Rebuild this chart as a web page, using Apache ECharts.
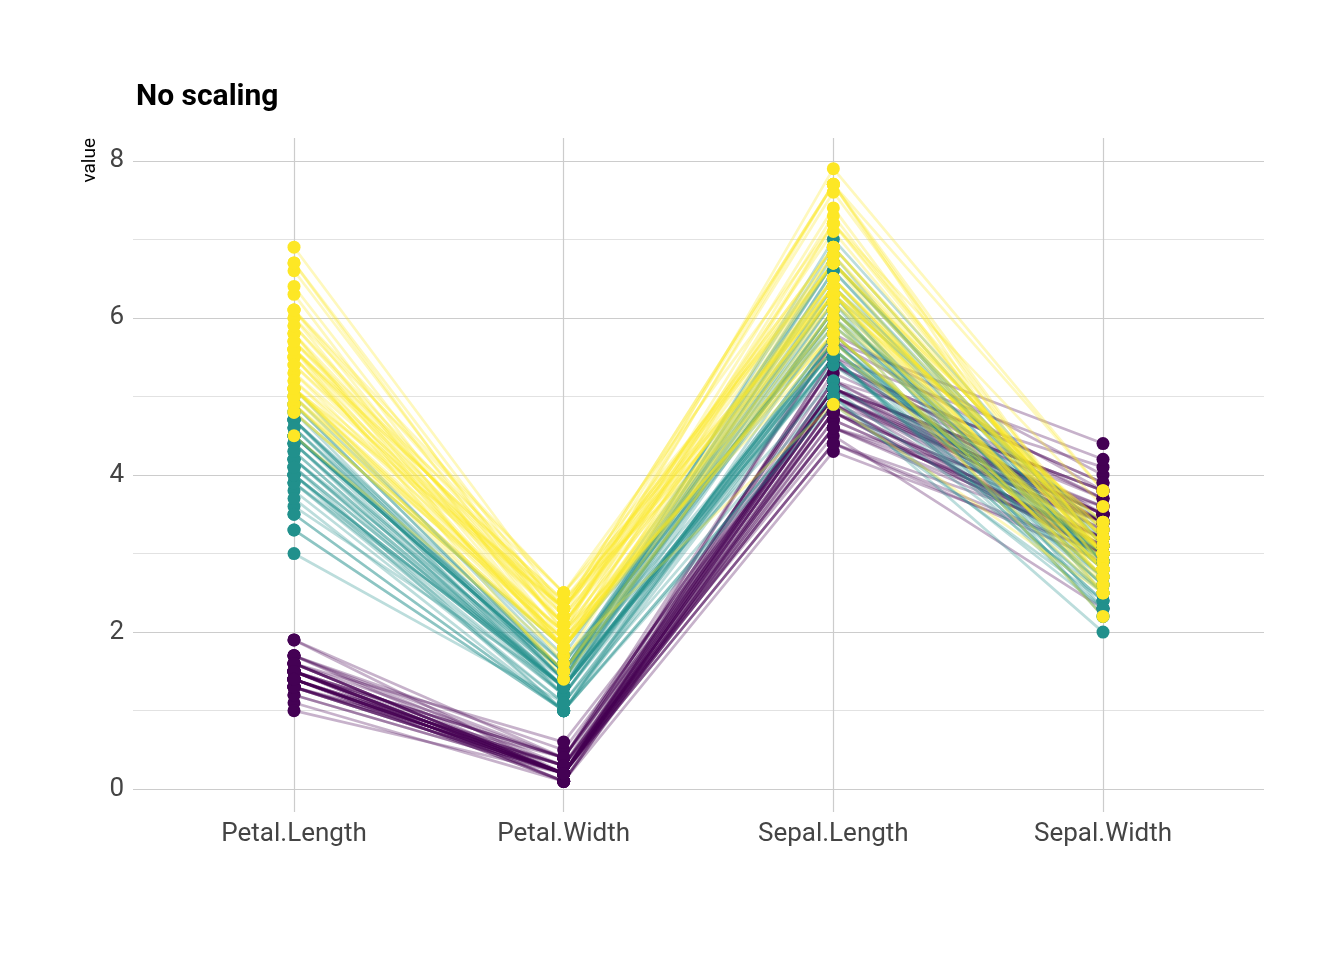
<!DOCTYPE html>
<html>
<head>
<meta charset="utf-8">
<script src="https://cdn.jsdelivr.net/npm/echarts@6/dist/echarts.min.js"></script>
<style>html,body{margin:0;padding:0;background:#fff}#c{width:1344px;height:960px}</style>
</head>
<body>
<div id="c"></div>
<script>
const categories = ['Petal.Length', 'Petal.Width', 'Sepal.Length', 'Sepal.Width'];
const yTicks = [0, 2, 4, 6, 8];
const speciesNames = ['setosa', 'versicolor', 'virginica'];
const speciesColors = ['#440154', '#21908C', '#FDE725'];

const setosaSepalLength = [5.1,4.9,4.7,4.6,5.0,5.4,4.6,5.0,4.4,4.9,5.4,4.8,4.8,4.3,5.8,5.7,5.4,5.1,5.7,5.1,5.4,5.1,4.6,5.1,4.8,5.0,5.0,5.2,5.2,4.7,4.8,5.4,5.2,5.5,4.9,5.0,5.5,4.9,4.4,5.1,5.0,4.5,4.4,5.0,5.1,4.8,5.1,4.6,5.3,5.0];
const setosaSepalWidth = [3.5,3.0,3.2,3.1,3.6,3.9,3.4,3.4,2.9,3.1,3.7,3.4,3.0,3.0,4.0,4.4,3.9,3.5,3.8,3.8,3.4,3.7,3.6,3.3,3.4,3.0,3.4,3.5,3.4,3.2,3.1,3.4,4.1,4.2,3.1,3.2,3.5,3.6,3.0,3.4,3.5,2.3,3.2,3.5,3.8,3.0,3.8,3.2,3.7,3.3];
const setosaPetalLength = [1.4,1.4,1.3,1.5,1.4,1.7,1.4,1.5,1.4,1.5,1.5,1.6,1.4,1.1,1.2,1.5,1.3,1.4,1.7,1.5,1.7,1.5,1.0,1.7,1.9,1.6,1.6,1.5,1.4,1.6,1.6,1.5,1.5,1.4,1.5,1.2,1.3,1.4,1.3,1.5,1.3,1.3,1.3,1.6,1.9,1.4,1.6,1.4,1.5,1.4];
const setosaPetalWidth = [0.2,0.2,0.2,0.2,0.2,0.4,0.3,0.2,0.2,0.1,0.2,0.2,0.1,0.1,0.2,0.4,0.4,0.3,0.3,0.3,0.2,0.4,0.2,0.5,0.2,0.2,0.4,0.2,0.2,0.2,0.2,0.4,0.1,0.2,0.2,0.2,0.2,0.1,0.2,0.2,0.3,0.3,0.2,0.6,0.4,0.3,0.2,0.2,0.2,0.2];

const versicolorSepalLength = [7.0,6.4,6.9,5.5,6.5,5.7,6.3,4.9,6.6,5.2,5.0,5.9,6.0,6.1,5.6,6.7,5.6,5.8,6.2,5.6,5.9,6.1,6.3,6.1,6.4,6.6,6.8,6.7,6.0,5.7,5.5,5.5,5.8,6.0,5.4,6.0,6.7,6.3,5.6,5.5,5.5,6.1,5.8,5.0,5.6,5.7,5.7,6.2,5.1,5.7];
const versicolorSepalWidth = [3.2,3.2,3.1,2.3,2.8,2.8,3.3,2.4,2.9,2.7,2.0,3.0,2.2,2.9,2.9,3.1,3.0,2.7,2.2,2.5,3.2,2.8,2.5,2.8,2.9,3.0,2.8,3.0,2.9,2.6,2.4,2.4,2.7,2.7,3.0,3.4,3.1,2.3,3.0,2.5,2.6,3.0,2.6,2.3,2.7,3.0,2.9,2.9,2.5,2.8];
const versicolorPetalLength = [4.7,4.5,4.9,4.0,4.6,4.5,4.7,3.3,4.6,3.9,3.5,4.2,4.0,4.7,3.6,4.4,4.5,4.1,4.5,3.9,4.8,4.0,4.9,4.7,4.3,4.4,4.8,5.0,4.5,3.5,3.8,3.7,3.9,5.1,4.5,4.5,4.7,4.4,4.1,4.0,4.4,4.6,4.0,3.3,4.2,4.2,4.2,4.3,3.0,4.1];
const versicolorPetalWidth = [1.4,1.5,1.5,1.3,1.5,1.3,1.6,1.0,1.3,1.4,1.0,1.5,1.0,1.4,1.3,1.4,1.5,1.0,1.5,1.1,1.8,1.3,1.5,1.2,1.3,1.4,1.4,1.7,1.5,1.0,1.1,1.0,1.2,1.6,1.5,1.6,1.5,1.3,1.3,1.3,1.2,1.4,1.2,1.0,1.3,1.2,1.3,1.3,1.1,1.3];

const virginicaSepalLength = [6.3,5.8,7.1,6.3,6.5,7.6,4.9,7.3,6.7,7.2,6.5,6.4,6.8,5.7,5.8,6.4,6.5,7.7,7.7,6.0,6.9,5.6,7.7,6.3,6.7,7.2,6.2,6.1,6.4,7.2,7.4,7.9,6.4,6.3,6.1,7.7,6.3,6.4,6.0,6.9,6.7,6.9,5.8,6.8,6.7,6.7,6.3,6.5,6.2,5.9];
const virginicaSepalWidth = [3.3,2.7,3.0,2.9,3.0,3.0,2.5,2.9,2.5,3.6,3.2,2.7,3.0,2.5,2.8,3.2,3.0,3.8,2.6,2.2,3.2,2.8,2.8,2.7,3.3,3.2,2.8,3.0,2.8,3.0,2.8,3.8,2.8,2.8,2.6,3.0,3.4,3.1,3.0,3.1,3.1,3.1,2.7,3.2,3.3,3.0,2.5,3.0,3.4,3.0];
const virginicaPetalLength = [6.0,5.1,5.9,5.6,5.8,6.6,4.5,6.3,5.8,6.1,5.1,5.3,5.5,5.0,5.1,5.3,5.5,6.7,6.9,5.0,5.7,4.9,6.7,4.9,5.7,6.0,4.8,4.9,5.6,5.8,6.1,6.4,5.6,5.1,5.6,6.1,5.6,5.5,4.8,5.4,5.6,5.1,5.1,5.9,5.7,5.2,5.0,5.2,5.4,5.1];
const virginicaPetalWidth = [2.5,1.9,2.1,1.8,2.2,2.1,1.7,1.8,1.8,2.5,2.0,1.9,2.1,2.0,2.4,2.3,1.8,2.2,2.3,1.5,2.3,2.0,2.0,1.8,2.1,1.8,1.8,1.8,2.1,1.6,1.9,2.0,2.2,1.5,1.4,2.3,2.4,1.8,1.8,2.1,2.4,2.3,1.9,2.3,2.5,2.3,1.9,2.0,2.3,1.8];

const speciesData = [
  [setosaPetalLength, setosaPetalWidth, setosaSepalLength, setosaSepalWidth],
  [versicolorPetalLength, versicolorPetalWidth, versicolorSepalLength, versicolorSepalWidth],
  [virginicaPetalLength, virginicaPetalWidth, virginicaSepalLength, virginicaSepalWidth]
];

const FONT = '"Liberation Sans Narrow", "Arial Narrow", Roboto, sans-serif';
const series = [];
speciesData.forEach((cols, s) => {
  for (let i = 0; i < cols[0].length; i++) {
    series.push({
      type: 'line', xAxisIndex: 1, yAxisIndex: 1,
      data: cols.map(c => c[i]),
      symbol: 'none', silent: true,
      lineStyle: { color: speciesColors[s], width: 2.7, opacity: 0.3 },
      z: 2
    });
  }
});
speciesData.forEach((cols, s) => {
  const pts = [];
  for (let i = 0; i < cols[0].length; i++) {
    cols.forEach((c, k) => pts.push([k, c[i]]));
  }
  series.push({
    type: 'scatter', name: speciesNames[s], xAxisIndex: 1, yAxisIndex: 1,
    data: pts, symbolSize: 13, silent: true,
    itemStyle: { color: speciesColors[s], opacity: 1 },
    z: 3
  });
});

const chart = echarts.init(document.getElementById('c'));
chart.setOption({
  animation: false,
  backgroundColor: '#fff',
  title: {
    text: 'No scaling', left: 131, top: 77,
    textStyle: { fontFamily: FONT, fontWeight: 'bold', fontSize: 30, color: '#000' }
  },
  graphic: [{
    type: 'text', x: 90, y: 138, rotation: Math.PI / 2,
    style: { text: 'value', align: 'right', verticalAlign: 'middle', font: '19px ' + FONT, fill: '#000' }
  }],
  grid: [
    { left: 133, right: 80, top: 160.8, bottom: 170.8 },
    { left: 294, right: 241, top: 138, bottom: 148 }
  ],
  xAxis: [
    { gridIndex: 0, type: 'value', show: false, min: 0, max: 1 },
    {
      gridIndex: 1, type: 'category', data: categories, boundaryGap: false,
      axisLine: { show: false }, axisTick: { show: false },
      axisLabel: { interval: 0, margin: 9, fontFamily: FONT, fontSize: 26, color: '#444' },
      splitLine: { show: true, interval: 0, lineStyle: { color: '#cccccc', width: 1.2 } }
    }
  ],
  yAxis: [
    {
      gridIndex: 0, type: 'value', min: 0, max: 8, interval: 2,
      axisLine: { show: false }, axisTick: { show: false },
      axisLabel: { margin: 9, fontFamily: FONT, fontSize: 26, color: '#444',
        formatter: v => (yTicks.indexOf(v) >= 0 ? String(v) : '') },
      splitLine: { show: true, lineStyle: { color: '#cccccc', width: 1.2 } },
      minorTick: { show: false, splitNumber: 2 },
      minorSplitLine: { show: true, lineStyle: { color: '#e2e2e2', width: 1.2 } }
    },
    { gridIndex: 1, type: 'value', min: -0.29, max: 8.29, show: false, splitLine: { show: false } }
  ],
  series: series
});
</script>
</body>
</html>
